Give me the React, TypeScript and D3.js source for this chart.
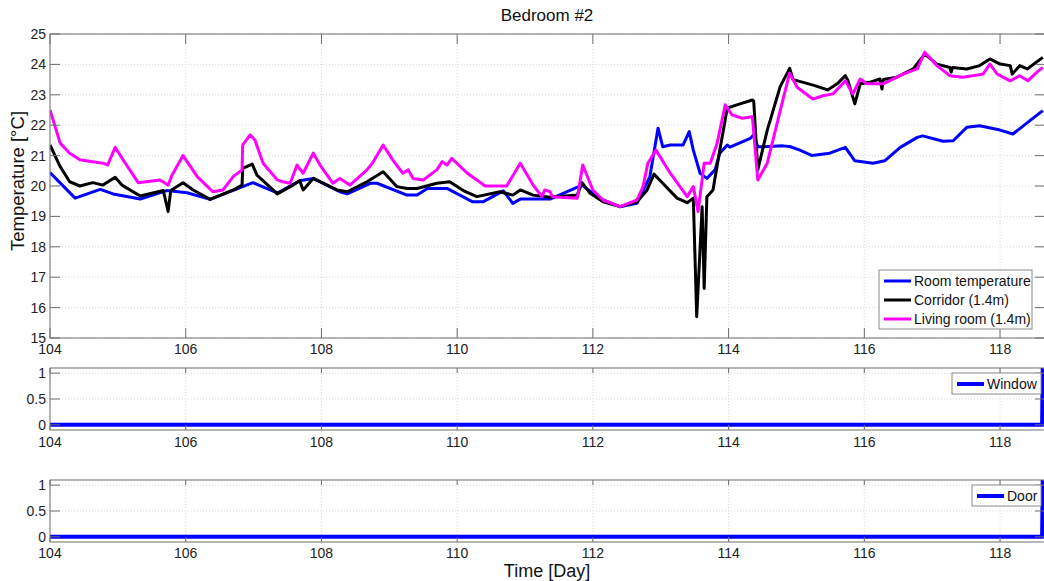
import React from "react";
import * as d3 from "d3";

const xTicks = [104, 106, 108, 110, 112, 114, 116, 118];
const yTicksMain = [15, 16, 17, 18, 19, 20, 21, 22, 23, 24, 25];
const yTicksSmall = [0, 0.5, 1];

const roomDays = [104.0, 104.37, 104.74, 104.93, 105.33, 105.72, 106.02, 106.36, 106.99, 107.35, 107.68, 107.88, 108.27, 108.38, 108.72, 108.82, 109.26, 109.41, 109.56, 109.85, 110.23, 110.38, 110.68, 110.82, 110.93, 111.37, 111.84, 112.0, 112.15, 112.4, 112.65, 112.84, 112.96, 113.03, 113.14, 113.33, 113.42, 113.48, 113.58, 113.68, 113.8, 113.87, 113.98, 114.02, 114.32, 114.37, 114.43, 114.51, 114.8, 114.9, 115.05, 115.23, 115.49, 115.72, 115.86, 116.13, 116.3, 116.53, 116.78, 116.86, 117.16, 117.31, 117.51, 117.7, 118.0, 118.19, 118.44, 118.63];
const roomTemp = [20.44, 19.6, 19.89, 19.74, 19.57, 19.85, 19.78, 19.56, 20.11, 19.77, 20.17, 20.25, 19.81, 19.74, 20.09, 20.09, 19.7, 19.7, 19.92, 19.92, 19.48, 19.48, 19.84, 19.43, 19.57, 19.57, 20.03, 19.76, 19.54, 19.32, 19.43, 20.31, 21.9, 21.29, 21.35, 21.35, 21.79, 21.18, 20.42, 20.25, 20.53, 21.08, 21.35, 21.28, 21.57, 21.68, 21.29, 21.29, 21.32, 21.3, 21.18, 21.0, 21.08, 21.27, 20.83, 20.75, 20.83, 21.27, 21.6, 21.65, 21.47, 21.49, 21.93, 21.98, 21.84, 21.71, 22.15, 22.48];

const corridorDays = [104.0, 104.15, 104.29, 104.44, 104.63, 104.78, 104.96, 105.06, 105.33, 105.67, 105.74, 105.78, 105.96, 106.11, 106.36, 106.7, 106.83, 106.84, 106.98, 107.05, 107.35, 107.54, 107.68, 107.73, 107.88, 108.23, 108.38, 108.67, 108.91, 109.11, 109.26, 109.41, 109.7, 109.89, 110.09, 110.29, 110.63, 110.82, 110.93, 111.12, 111.37, 111.77, 111.84, 111.96, 112.15, 112.4, 112.65, 112.8, 112.9, 113.03, 113.24, 113.39, 113.48, 113.53, 113.61, 113.64, 113.68, 113.77, 113.87, 113.98, 114.12, 114.35, 114.37, 114.43, 114.57, 114.76, 114.9, 114.95, 115.1, 115.27, 115.46, 115.6, 115.72, 115.76, 115.86, 115.94, 116.08, 116.23, 116.26, 116.28, 116.48, 116.72, 116.89, 117.07, 117.26, 117.28, 117.3, 117.51, 117.7, 117.85, 118.0, 118.15, 118.18, 118.29, 118.4, 118.63];
const corridorTemp = [21.35, 20.64, 20.14, 20.0, 20.11, 20.03, 20.29, 20.03, 19.67, 19.85, 19.16, 19.85, 20.11, 19.87, 19.56, 19.87, 20.03, 20.58, 20.72, 20.36, 19.74, 19.98, 20.17, 19.87, 20.25, 19.87, 19.81, 20.14, 20.47, 19.98, 19.92, 19.92, 20.09, 20.14, 19.85, 19.65, 19.81, 19.7, 19.87, 19.7, 19.63, 19.7, 20.11, 19.76, 19.48, 19.32, 19.48, 19.87, 20.39, 20.09, 19.6, 19.45, 19.6, 15.7, 19.32, 16.63, 19.65, 19.87, 21.18, 22.56, 22.67, 22.83, 22.8, 20.53, 21.84, 23.27, 23.87, 23.5, 23.41, 23.3, 23.16, 23.36, 23.63, 23.46, 22.7, 23.36, 23.41, 23.52, 23.19, 23.5, 23.58, 23.85, 24.34, 24.01, 23.9, 23.75, 23.9, 23.85, 23.96, 24.18, 24.01, 23.96, 23.68, 23.96, 23.85, 24.23];

const livingDays = [104.0, 104.15, 104.29, 104.44, 104.63, 104.78, 104.85, 104.96, 105.11, 105.3, 105.62, 105.74, 105.8, 105.96, 106.17, 106.4, 106.55, 106.7, 106.83, 106.84, 106.95, 107.02, 107.14, 107.35, 107.43, 107.54, 107.64, 107.73, 107.88, 107.98, 108.17, 108.27, 108.42, 108.67, 108.75, 108.91, 109.05, 109.2, 109.28, 109.35, 109.5, 109.7, 109.78, 109.85, 109.92, 110.15, 110.29, 110.41, 110.73, 110.93, 111.12, 111.25, 111.29, 111.37, 111.4, 111.77, 111.85, 112.0, 112.15, 112.4, 112.65, 112.74, 112.81, 112.93, 113.14, 113.39, 113.48, 113.55, 113.64, 113.73, 113.83, 113.95, 114.05, 114.2, 114.35, 114.43, 114.57, 114.8, 114.9, 115.01, 115.24, 115.39, 115.54, 115.72, 115.83, 115.94, 116.04, 116.28, 116.57, 116.78, 116.89, 117.07, 117.26, 117.45, 117.75, 117.85, 117.96, 118.15, 118.29, 118.41, 118.54, 118.63];
const livingTemp = [22.5, 21.41, 21.08, 20.86, 20.8, 20.75, 20.69, 21.27, 20.75, 20.11, 20.2, 20.03, 20.36, 21.0, 20.31, 19.81, 19.87, 20.31, 20.53, 21.35, 21.68, 21.51, 20.75, 20.2, 20.14, 20.09, 20.69, 20.42, 21.08, 20.69, 20.09, 20.25, 20.03, 20.53, 20.75, 21.35, 20.86, 20.42, 20.53, 20.25, 20.2, 20.53, 20.8, 20.69, 20.91, 20.42, 20.2, 20.0, 20.0, 20.75, 20.03, 19.65, 19.87, 19.81, 19.65, 19.6, 20.69, 19.87, 19.54, 19.32, 19.54, 19.98, 20.75, 21.18, 20.42, 19.65, 19.98, 19.16, 20.75, 20.75, 21.4, 22.67, 22.34, 22.23, 22.28, 20.2, 20.75, 22.83, 23.71, 23.25, 22.86, 22.97, 23.03, 23.46, 23.03, 23.52, 23.36, 23.36, 23.68, 23.85, 24.4, 23.96, 23.63, 23.58, 23.68, 24.01, 23.68, 23.46, 23.63, 23.46, 23.74, 23.9];

const stateDays = [104.0, 118.62, 118.63];
const windowState = [0, 0, 1.3];
const doorState = [0, 0, 1.3];

const legendMain = ["Room temperature", "Corridor (1.4m)", "Living room (1.4m)"];
const seriesColors = ["#0000ff", "#000000", "#ff00ff"];

const FONT = "'Liberation Sans', Arial, Helvetica, sans-serif";
const L = 50;
const R = 1045;
const AX = "#6e6e6e";
const GRID = "#d8d8d8";

const x = d3.scaleLinear().domain([104, 104 + (R - L) / 67.86]).range([L, R]);

function Panel({ id, top, bottom, yDomain, yTicks, yFmt, lines, tickLen, labelDy }) {
  const y = d3.scaleLinear().domain(yDomain).range([bottom, top]);
  const lineGen = d3.line().x((d) => x(d[0])).y((d) => y(d[1]));
  return (
    <g>
      <defs>
        <clipPath id={id}>
          <rect x={L} y={top} width={R - L} height={bottom - top} />
        </clipPath>
      </defs>
      <rect x={L} y={top} width={R - L} height={bottom - top} fill="#fff" />
      {xTicks.map((t) => (
        <line key={"gx" + t} x1={x(t)} x2={x(t)} y1={top} y2={bottom} stroke={GRID} strokeDasharray="1,2" />
      ))}
      {yTicks.map((t) => (
        <line key={"gy" + t} x1={L} x2={R} y1={y(t)} y2={y(t)} stroke={GRID} strokeDasharray="1,2" />
      ))}
      <g clipPath={`url(#${id})`}>
        {lines.map((ln, i) => (
          <path key={i} d={lineGen(ln.days.map((d, j) => [d, ln.vals[j]]))} fill="none" stroke={ln.color} strokeWidth={ln.width} strokeLinejoin="round" />
        ))}
      </g>
      <rect x={L} y={top} width={R - L} height={bottom - top} fill="none" stroke={AX} strokeWidth={1} />
      {xTicks.map((t) => (
        <g key={"tx" + t}>
          <line x1={x(t)} x2={x(t)} y1={bottom} y2={bottom - tickLen} stroke={AX} />
          <line x1={x(t)} x2={x(t)} y1={top} y2={top + tickLen} stroke={AX} />
          <text x={x(t)} y={bottom + labelDy} textAnchor="middle" fontSize={14} fontFamily={FONT} fill="#222">{t}</text>
        </g>
      ))}
      {yTicks.map((t) => (
        <g key={"ty" + t}>
          <line x1={L} x2={L + 10} y1={y(t)} y2={y(t)} stroke={AX} />
          <line x1={R} x2={R - 10} y1={y(t)} y2={y(t)} stroke={AX} />
          <text x={46} y={y(t) + 5} textAnchor="end" fontSize={14} fontFamily={FONT} fill="#222">{yFmt(t)}</text>
        </g>
      ))}
    </g>
  );
}

function Legend({ x0, y0, w, labels, colors, lw }) {
  const rowH = 19;
  return (
    <g>
      <rect x={x0} y={y0} width={w} height={labels.length * rowH + 2} fill="#fff" stroke="#8a8a8a" />
      {labels.map((lab, i) => (
        <g key={lab}>
          <line x1={x0 + 5} x2={x0 + 32} y1={y0 + 11 + i * rowH} y2={y0 + 11 + i * rowH} stroke={colors[i]} strokeWidth={lw} />
          <text x={x0 + 35} y={y0 + 16 + i * rowH} fontSize={14} fontFamily={FONT} fill="#111">{lab}</text>
        </g>
      ))}
    </g>
  );
}

export default function App() {
  const mainLines = [
    { days: roomDays, vals: roomTemp, color: seriesColors[0], width: 3 },
    { days: corridorDays, vals: corridorTemp, color: seriesColors[1], width: 3 },
    { days: livingDays, vals: livingTemp, color: seriesColors[2], width: 3 },
  ];
  return (
    <svg width={1044} height={581} style={{ position: "absolute", left: 0, top: 0, background: "#fff" }}>
      <rect width={1044} height={581} fill="#fff" />
      <text x={547} y={21} textAnchor="middle" fontSize={17} fontFamily={FONT} fill="#111">Bedroom #2</text>
      <Panel id="cmain" top={34} bottom={338} yDomain={[15, 25]} yTicks={yTicksMain} yFmt={(t) => String(t)} lines={mainLines} tickLen={10} labelDy={16} />
      <text transform="translate(24,181) rotate(-90)" textAnchor="middle" fontSize={18.5} fontFamily={FONT} fill="#111">Temperature [°C]</text>
      <Legend x0={879} y0={270} w={153} labels={legendMain} colors={seriesColors} lw={3} />
      <Panel id="cwin" top={368} bottom={430} yDomain={[-0.1, 1.1]} yTicks={yTicksSmall} yFmt={(t) => String(t)} lines={[{ days: stateDays, vals: windowState, color: "#0000ff", width: 4 }]} tickLen={5} labelDy={17} />
      <Legend x0={952} y0={373} w={89} labels={["Window"]} colors={["#0000ff"]} lw={4} />
      <Panel id="cdoor" top={480} bottom={542} yDomain={[-0.1, 1.1]} yTicks={yTicksSmall} yFmt={(t) => String(t)} lines={[{ days: stateDays, vals: doorState, color: "#0000ff", width: 4 }]} tickLen={5} labelDy={16} />
      <Legend x0={972} y0={485} w={69} labels={["Door"]} colors={["#0000ff"]} lw={4} />
      <text x={547} y={577} textAnchor="middle" fontSize={18} fontFamily={FONT} fill="#111">Time [Day]</text>
    </svg>
  );
}
